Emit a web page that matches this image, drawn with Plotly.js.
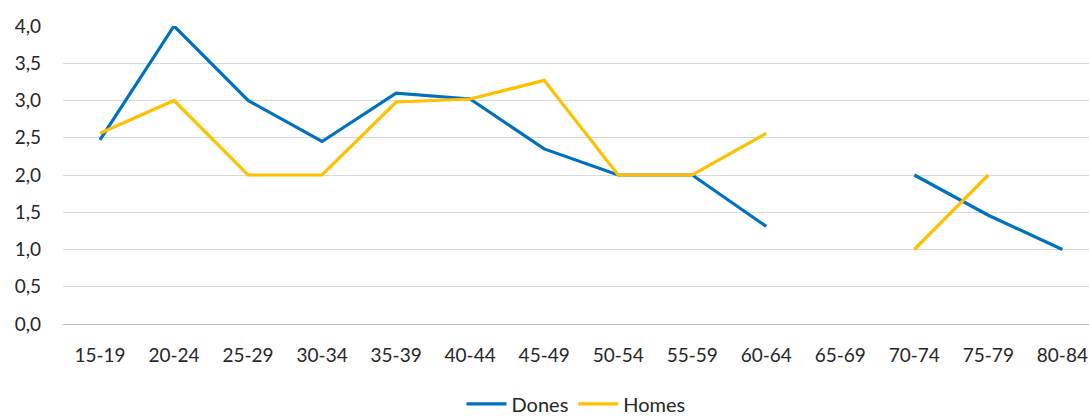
<!DOCTYPE html>
<html><head><meta charset="utf-8">
<script src="https://cdn.plot.ly/plotly-3.0.1.min.js"></script>
<style>html,body{margin:0;padding:0;background:#fff}#c{width:1089px;height:419px}</style>
</head><body><div id="c"></div>
<script>
const categories = ["15-19","20-24","25-29","30-34","35-39","40-44","45-49","50-54","55-59","60-64","65-69","70-74","75-79","80-84"];
const dones = [2.47, 4.0, 3.0, 2.45, 3.1, 3.02, 2.35, 2.0, 2.0, 1.31, null, 2.0, 1.46, 1.0];
const homes = [2.56, 3.0, 2.0, 2.0, 2.98, 3.02, 3.27, 2.0, 2.0, 2.56, null, 1.0, 2.0, null];
const yTicks = [0,0.5,1,1.5,2,2.5,3,3.5,4];
const yTickText = ["0,0","0,5","1,0","1,5","2,0","2,5","3,0","3,5","4,0"];

const font = {family: "Lato, 'Open Sans', sans-serif", size: 19, color: "#262626"};
const legendFont = {family: "Lato, 'Open Sans', sans-serif", size: 20, color: "#262626"};
Plotly.newPlot("c", [
  {x: categories, y: dones, name: "Dones", type: "scatter", mode: "lines",
   line: {color: "#0070c0", width: 3.2}, connectgaps: false},
  {x: categories, y: homes, name: "Homes", type: "scatter", mode: "lines",
   line: {color: "#ffc000", width: 3.2}, connectgaps: false}
], {
  width: 1089, height: 419,
  margin: {l: 63, r: 0, t: 26, b: 95},
  paper_bgcolor: "#fff", plot_bgcolor: "#fff",
  font: font,
  xaxis: {type: "category", showgrid: false, showline: true, linecolor: "#bfbfbf", linewidth: 1,
          ticks: "", tickfont: font, range: [-0.5, 13.36], fixedrange: true, ticklabelstandoff: 14},
  yaxis: {range: [0, 4], tickvals: yTicks, ticktext: yTickText, showgrid: true, gridcolor: "#d9d9d9",
          gridwidth: 1, zeroline: false, showline: false, ticks: "", tickfont: font, ticklabelstandoff: 21},
  showlegend: true,
  legend: {orientation: "h", x: 0.5, xanchor: "center", yref: "container", y: 0.036, yanchor: "middle",
           font: legendFont, itemwidth: 40, tracegroupgap: 0}
}, {displayModeBar: false, staticPlot: true});
</script></body></html>
